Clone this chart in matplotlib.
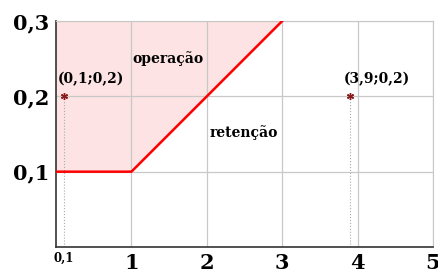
import numpy as np
import matplotlib.pyplot as plt

# fronteira operação / retenção
line_x = [0, 1, 3]
line_y = [0.1, 0.1, 0.3]

points_x = [0.1, 3.9]
points_y = [0.2, 0.2]
point_labels = ["(0,1;0,2)", "(3,9;0,2)"]

x_ticks = [1, 2, 3, 4, 5]
x_tick_labels = ["1", "2", "3", "4", "5"]
y_ticks = [0.1, 0.2, 0.3]
y_tick_labels = ["0,1", "0,2", "0,3"]

plt.rcParams["font.family"] = "DejaVu Serif"
plt.rcParams["font.weight"] = "bold"

fig = plt.figure(figsize=(4.38, 2.73), dpi=100)
ax = fig.add_axes([0.1279, 0.0952, 0.8607, 0.8278])

ax.set_xlim(0, 5)
ax.set_ylim(0, 0.3)

# fundo rosa acima da fronteira
ax.fill_between(line_x, line_y, 0.3, color="#fde3e3", zorder=0)

ax.grid(True, color="#c8c8c8", linewidth=0.9, zorder=1)
ax.set_axisbelow(True)

ax.plot(line_x, line_y, color="red", linewidth=1.8, zorder=3)

for px, py in zip(points_x, points_y):
    ax.plot([px, px], [0, py], color="#aaaaaa", linestyle=":", linewidth=0.8, zorder=2)

ax.plot(points_x, points_y, linestyle="none", marker=(6, 2, 0),
        markersize=5, color="#8b1a1a", markeredgewidth=1.0, zorder=4)

ax.text(0.02, 0.213, point_labels[0], fontsize=10, fontweight="bold", ha="left", va="bottom")
ax.text(3.82, 0.213, point_labels[1], fontsize=10, fontweight="bold", ha="left", va="bottom")
ax.text(1.48, 0.25, "operação", fontsize=10, fontweight="bold", ha="center", va="center")
ax.text(2.49, 0.152, "retenção", fontsize=10, fontweight="bold", ha="center", va="center")

ax.set_xticks(x_ticks)
ax.set_xticklabels(x_tick_labels, fontsize=15, fontweight="bold")
ax.set_yticks(y_ticks)
ax.set_yticklabels(y_tick_labels, fontsize=15, fontweight="bold")
ax.tick_params(axis="x", length=0, pad=4)
ax.tick_params(axis="y", length=0, pad=5)

ax.text(0.1, -0.006, "0,1", fontsize=8.5, fontweight="bold", ha="center", va="top")

for side in ["top", "right"]:
    ax.spines[side].set_color("#c8c8c8")
for side in ["left", "bottom"]:
    ax.spines[side].set_color("#333333")
    ax.spines[side].set_linewidth(1.2)

fig.savefig("out.png", dpi=100)
